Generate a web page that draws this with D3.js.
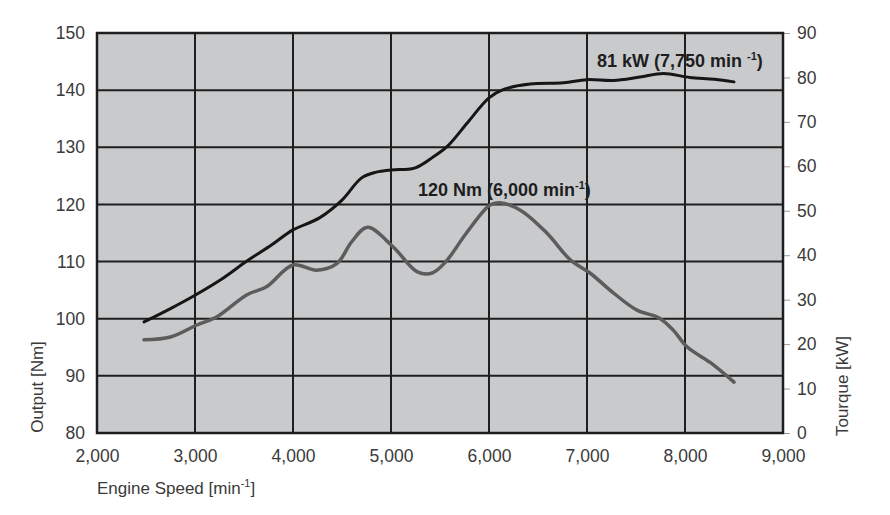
<!DOCTYPE html>
<html><head><meta charset="utf-8">
<script src="https://cdn.jsdelivr.net/npm/d3@7"></script>
<style>body{margin:0;background:#fff;} svg{display:block;} text{font-family:"Liberation Sans",Arial,sans-serif;}</style>
</head><body><svg id="c" width="890" height="515"></svg>
<script>
// rpm values for the power (kW) curve, black, right axis
const powerRpm = [2480, 2750, 3000, 3270, 3530, 3780, 4000, 4270, 4500, 4700, 4850, 5000, 5240, 5430, 5580, 5780, 6000, 6150, 6420, 6760, 7000, 7270, 7540, 7780, 8050, 8300, 8500];
const powerKw  = [25.0, 28.0, 31.0, 34.6, 38.7, 42.3, 45.7, 48.4, 52.4, 57.4, 58.7, 59.2, 59.6, 62.1, 64.6, 69.8, 75.4, 77.3, 78.5, 78.8, 79.5, 79.3, 80.1, 80.9, 80.0, 79.6, 79.0];
// rpm values for the torque (Nm) curve, gray, left axis
const torqueRpm = [2480, 2750, 3020, 3220, 3530, 3730, 4000, 4240, 4450, 4600, 4760, 5020, 5270, 5420, 5560, 5770, 6010, 6110, 6320, 6590, 6830, 7030, 7270, 7510, 7740, 7880, 8020, 8260, 8500];
const torqueNm  = [96.3, 96.8, 98.9, 100.3, 104.2, 105.6, 109.4, 108.5, 109.7, 113.5, 116.0, 112.6, 108.2, 108.0, 110.0, 115.0, 119.9, 120.3, 119.0, 115.0, 110.3, 108.0, 104.5, 101.5, 100.1, 98.0, 95.1, 92.3, 88.9];
const xTicks = [2000, 3000, 4000, 5000, 6000, 7000, 8000, 9000];
const leftTicks = [80, 90, 100, 110, 120, 130, 140, 150];
const rightTicks = [0, 10, 20, 30, 40, 50, 60, 70, 80, 90];

const svg = d3.select("#c");
const L = 97, R = 783, T = 33, B = 433;
const x = d3.scaleLinear().domain([2000, 9000]).range([L, R]);
const yL = d3.scaleLinear().domain([80, 150]).range([B, T]);
const yR = d3.scaleLinear().domain([0, 90]).range([B, T]);
const fmt = d3.format(",");

svg.append("rect").attr("x", L).attr("y", T).attr("width", R - L).attr("height", B - T).attr("fill", "#c9cacc");

// gridlines
const g = svg.append("g").attr("stroke", "#1e1e1e").attr("stroke-width", 2);
g.selectAll(".vx").data(xTicks.slice(1, -1)).join("line")
  .attr("x1", d => x(d)).attr("x2", d => x(d)).attr("y1", T).attr("y2", B);
g.selectAll(".hy").data(leftTicks.slice(1, -1)).join("line")
  .attr("y1", d => yL(d)).attr("y2", d => yL(d)).attr("x1", L).attr("x2", R);

// axes via d3
const ax = svg.append("g").attr("transform", `translate(0,${B})`)
  .call(d3.axisBottom(x).tickValues(xTicks).tickFormat(fmt).tickSize(0).tickPadding(17));
const ayl = svg.append("g").attr("transform", `translate(${L},0)`)
  .call(d3.axisLeft(yL).tickValues(leftTicks).tickSize(0).tickPadding(12));
const ayr = svg.append("g").attr("transform", `translate(${R},0)`)
  .call(d3.axisRight(yR).tickValues(rightTicks).tickSize(7).tickPadding(7));
[ax, ayl, ayr].forEach(a => {
  a.select(".domain").remove();
  a.selectAll("text").attr("font-size", 17.5).attr("fill", "#3a3a3a").style("font-family", '"Liberation Sans",Arial,sans-serif');
  a.selectAll(".tick line").attr("stroke", "#9a9a9a").attr("stroke-width", 1);
});

// border
svg.append("rect").attr("x", L).attr("y", T).attr("width", R - L).attr("height", B - T)
  .attr("fill", "none").attr("stroke", "#1e1e1e").attr("stroke-width", 2.5);

// curves
const lineT = d3.line().x((d, i) => x(torqueRpm[i])).y(d => yL(d)).curve(d3.curveCatmullRom.alpha(0.5));
const lineP = d3.line().x((d, i) => x(powerRpm[i])).y(d => yR(d)).curve(d3.curveCatmullRom.alpha(0.5));
svg.append("path").attr("d", lineT(torqueNm)).attr("fill", "none").attr("stroke", "#5c5c5c").attr("stroke-width", 3.5).attr("stroke-linecap", "round");
svg.append("path").attr("d", lineP(powerKw)).attr("fill", "none").attr("stroke", "#161616").attr("stroke-width", 3).attr("stroke-linecap", "round");

// annotations
function note(px, py, main) {
  const t = svg.append("text").attr("x", px).attr("y", py).attr("font-size", 18).attr("font-weight", "bold").attr("fill", "#1e1e1e");
  t.append("tspan").text(main);
  t.append("tspan").attr("font-size", 11).attr("dy", -7).text("-1");
  t.append("tspan").attr("dy", 7).text(")");
}
note(418, 196, "120 Nm (6,000 min");
note(597, 67, "81 kW (7,750 min ");

// axis titles
const xt = svg.append("text").attr("x", L).attr("y", 494).attr("font-size", 17).attr("fill", "#3a3a3a");
xt.append("tspan").text("Engine Speed [min");
xt.append("tspan").attr("font-size", 11).attr("dy", -7).text("-1");
xt.append("tspan").attr("dy", 7).text("]");
svg.append("text").attr("transform", `translate(43,387) rotate(-90)`)
  .attr("text-anchor", "middle").attr("font-size", 17).attr("fill", "#3a3a3a").text("Output [Nm]");
svg.append("text").attr("transform", `translate(848,386) rotate(-90)`)
  .attr("text-anchor", "middle").attr("font-size", 17).attr("fill", "#3a3a3a").text("Tourque [kW]");
</script></body></html>
